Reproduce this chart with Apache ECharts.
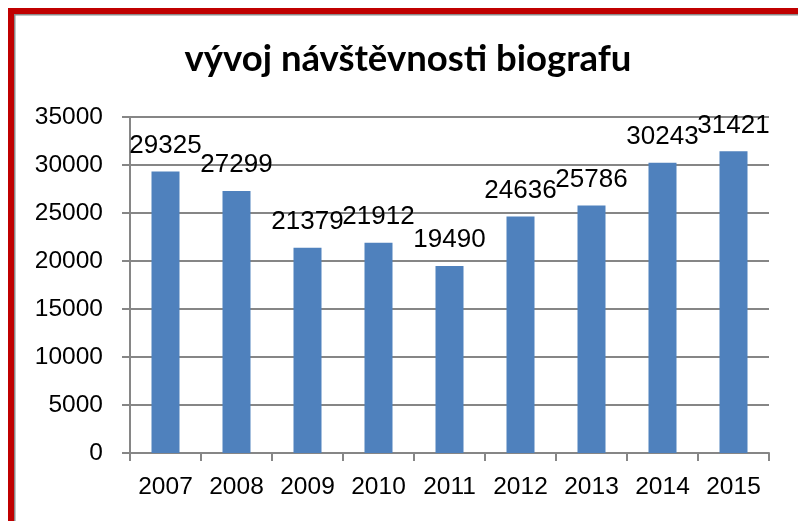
<!DOCTYPE html>
<html>
<head>
<meta charset="utf-8">
<script src="https://cdn.jsdelivr.net/npm/echarts@6/dist/echarts.min.js"></script>
<style>
html,body{margin:0;padding:0;background:#fff;}
#chart{width:798px;height:521px;}
</style>
</head>
<body>
<div id="chart"></div>
<script>
const titleText = 'vývoj návštěvnosti biografu';
const years = ['2007','2008','2009','2010','2011','2012','2013','2014','2015'];
const visitors = [29325, 27299, 21379, 21912, 19490, 24636, 25786, 30243, 31421];
const yMin = 0, yMax = 35000, yStep = 5000;

const chart = echarts.init(document.getElementById('chart'), null, {renderer:'canvas'});
chart.setOption({
  animation: false,
  backgroundColor: '#ffffff',
  title: {
    text: titleText,
    left: 403, top: 36, textAlign: 'center',
    textStyle: {fontFamily: 'Lato', fontWeight: 'bold', fontSize: 36.5, color: '#000'}
  },
  graphic: [
    {type:'rect', shape:{x:8,y:8,width:790,height:6}, style:{fill:'#c00000'}, silent:true},
    {type:'rect', shape:{x:8,y:8,width:6,height:513}, style:{fill:'#c00000'}, silent:true},
    {type:'rect', shape:{x:14,y:14,width:784,height:1.5}, style:{fill:'#8a8a8a'}, silent:true},
    {type:'rect', shape:{x:14,y:14,width:1.5,height:507}, style:{fill:'#8a8a8a'}, silent:true}
  ],
  grid: {left:130, right:29, top:117, bottom:68, containLabel:false},
  xAxis: {
    type: 'category',
    data: years,
    boundaryGap: true,
    axisLine: {show:true, lineStyle:{color:'#868686', width:2}},
    axisTick: {show:true, length:8, lineStyle:{color:'#868686', width:2}},
    axisLabel: {margin: 22, fontFamily:'Liberation Sans', fontSize:24.5, color:'#000'}
  },
  yAxis: {
    type: 'value',
    min: yMin, max: yMax, interval: yStep,
    axisLine: {show:true, lineStyle:{color:'#868686', width:2}},
    axisTick: {show:true, length:8, lineStyle:{color:'#868686', width:2}},
    splitLine: {show:true, lineStyle:{color:'#868686', width:2}},
    axisLabel: {margin: 27, fontFamily:'Liberation Sans', fontSize:24.5, color:'#000',
      formatter: function (v) { return String(v); }}
  },
  series: [{
    type: 'bar',
    data: visitors,
    barWidth: 28,
    itemStyle: {color:'#4f81bd'},
    label: {
      show: true, position: 'top', distance: 13,
      fontFamily: 'Liberation Sans', fontSize: 26, color: '#000'
    }
  }]
});
</script>
</body>
</html>
